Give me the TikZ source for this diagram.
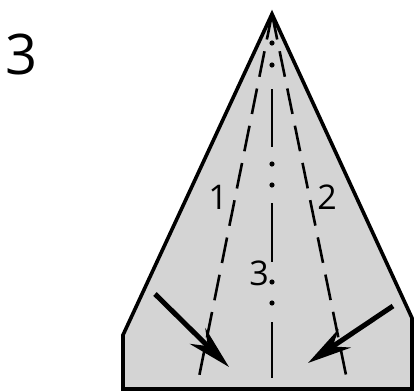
\documentclass[tikz,border=0pt]{standalone}
\usepackage{fontspec}
\setmainfont{Open Sans}
\usetikzlibrary{arrows.meta}
\definecolor{paper}{RGB}{212,212,212}

\begin{document}
\begin{tikzpicture}[x=0.5pt,y=-0.5pt,
  fold/.style={draw,line width=1.3pt,dash pattern=on 13pt off 6pt},
  push/.style={draw,line width=2.5pt,-{Stealth[length=22pt,width=11pt]}},
  num/.style={inner sep=0pt,font=\fontsize{17}{20}\selectfont}]
\useasboundingbox (0,0) rectangle (414,392);
% paper outline
\coordinate (top) at (272,14);
\draw[line width=1.8pt,fill=paper] (top) -- (412,318) -- (412,389)
  -- (123,389) -- (123,335) -- cycle;
% folds 1 and 2
\coordinate (foot1) at (199,377);
\coordinate (foot2) at (346,375);
\draw[fold] (top) -- (foot1);
\draw[fold] (top) -- (foot2);
% centre line, dash and dots
\foreach \a/\b in {89/147,203/262,322/378}
  \draw[line width=1.3pt] (272,\a) -- (272,\b);
\foreach \y in {43,65,164,185,282,303}
  \fill (272,\y) circle (1.3pt);
% labels
\node[inner sep=0pt,font=\fontsize{28}{32}\selectfont] (step) at (22,54) {3};
\node[num] (one) at (218,197) {1};
\node[num] (two) at (327,197) {2};
\node[num] (three) at (259,273) {3};
% arrows
\coordinate (tail1) at (155,294);
\coordinate (tip1) at (229,367);
\coordinate (tail2) at (393,306);
\coordinate (tip2) at (308,363);
\draw[push] (tail1) -- (tip1);
\draw[push] (tail2) -- (tip2);
\end{tikzpicture}
\end{document}
